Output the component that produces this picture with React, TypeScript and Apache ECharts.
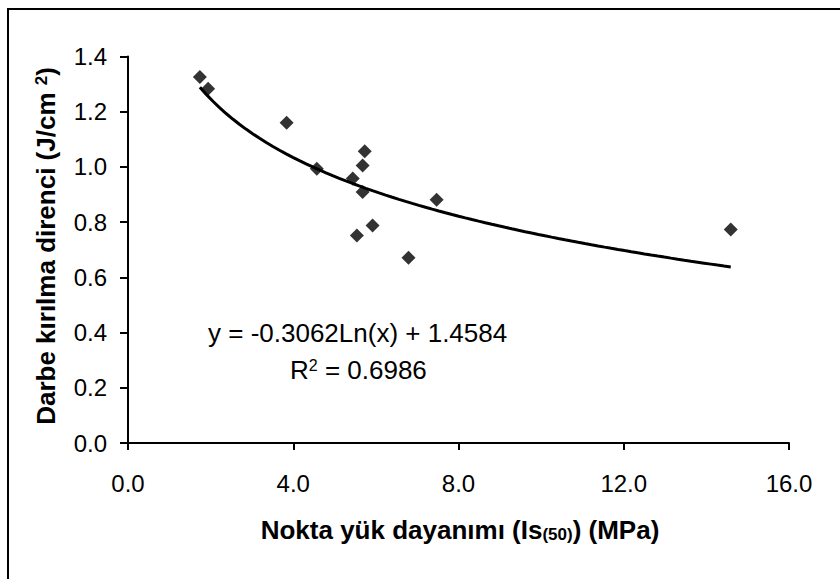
import React, { useEffect, useRef } from "react";
import * as echarts from "echarts";

const pointX = [1.74, 1.94, 3.84, 4.57, 5.44, 5.73, 5.68, 5.68, 5.92, 5.54, 6.79, 7.47, 14.59];
const pointY = [1.326, 1.283, 1.16, 0.993, 0.958, 1.057, 1.005, 0.909, 0.788, 0.752, 0.671, 0.881, 0.773];
const xTicks = [0, 4, 8, 12, 16];
const yTicks = [0, 0.2, 0.4, 0.6, 0.8, 1.0, 1.2, 1.4];
// logarithmic trendline coefficients as printed on the chart
const trendSlope = -0.3062;
const trendIntercept = 1.4584;
const trendR2 = "0.6986";

const FONT = "'Liberation Sans', Arial, sans-serif";

export default function App() {
  const ref = useRef<HTMLDivElement>(null);
  useEffect(() => {
    if (!ref.current) return;
    const chart = echarts.init(ref.current, undefined, { renderer: "svg" });
    const xmin = Math.min(...pointX);
    const xmax = Math.max(...pointX);
    const steps = 80;
    const trend: number[][] = [];
    for (let i = 0; i <= steps; i++) {
      const x = xmin + ((xmax - xmin) * i) / steps;
      trend.push([x, trendSlope * Math.log(x) + trendIntercept]);
    }
    const scatter = pointX.map((x, i) => [x, pointY[i]]);
    chart.setOption({
      animation: false,
      backgroundColor: "#fff",
      textStyle: { fontFamily: FONT },
      grid: { left: 128, top: 56.5, right: 51, bottom: 136, containLabel: false },
      xAxis: {
        type: "value",
        min: xTicks[0],
        max: xTicks[xTicks.length - 1],
        interval: 4,
        axisLine: { show: true, lineStyle: { color: "#000", width: 2 } },
        axisTick: { show: true, length: 7, lineStyle: { color: "#000", width: 2 } },
        splitLine: { show: false },
        axisLabel: {
          color: "#000",
          fontSize: 24,
          fontFamily: FONT,
          margin: 28,
          formatter: (v: number) => v.toFixed(1),
        },
      },
      yAxis: {
        type: "value",
        min: yTicks[0],
        max: yTicks[yTicks.length - 1],
        interval: 0.2,
        axisLine: { show: true, lineStyle: { color: "#000", width: 2 } },
        axisTick: { show: true, length: 8, lineStyle: { color: "#000", width: 2 } },
        splitLine: { show: false },
        axisLabel: {
          color: "#000",
          fontSize: 24,
          fontFamily: FONT,
          margin: 21,
          formatter: (v: number) => v.toFixed(1),
        },
      },
      series: [
        {
          type: "line",
          data: trend,
          showSymbol: false,
          symbol: "none",
          smooth: false,
          lineStyle: { color: "#000", width: 3 },
          z: 2,
        },
        {
          type: "scatter",
          data: scatter,
          symbol: "diamond",
          symbolSize: 14,
          itemStyle: { color: "#000" },
          z: 3,
        },
      ],
      graphic: [
        {
          type: "rect",
          shape: { x: 8, y: 9, width: 840, height: 600 },
          style: { fill: "none", stroke: "#000", lineWidth: 2 },
          silent: true,
        },
        {
          type: "text",
          x: 208,
          y: 333,
          style: {
            text: `y = ${trendSlope.toFixed(4)}Ln(x) + ${trendIntercept.toFixed(4)}`,
            fontSize: 26,
            fontFamily: FONT,
            fill: "#000",
            align: "left",
            verticalAlign: "middle",
          },
        },
        {
          type: "text",
          x: 290,
          y: 370,
          style: {
            text: `R{sup|2} = ${trendR2}`,
            fontSize: 26,
            fontFamily: FONT,
            fill: "#000",
            align: "left",
            verticalAlign: "middle",
            rich: {
              sup: { fontSize: 16, fontFamily: FONT, verticalAlign: "top", fill: "#000" },
            },
          },
        },
        {
          type: "text",
          x: 460,
          y: 530,
          style: {
            text: "Nokta yük dayanımı (Is{sub|(50)}) (MPa)",
            fontSize: 26,
            fontWeight: "bold",
            fontFamily: FONT,
            fill: "#000",
            align: "center",
            verticalAlign: "middle",
            rich: {
              sub: { fontSize: 17, fontWeight: "bold", fontFamily: FONT, verticalAlign: "bottom", fill: "#000" },
            },
          },
        },
        {
          type: "text",
          x: 46,
          y: 246,
          rotation: Math.PI / 2,
          style: {
            text: "Darbe kırılma direnci (J/cm {sup|2})",
            fontSize: 26,
            fontWeight: "bold",
            fontFamily: FONT,
            fill: "#000",
            align: "center",
            verticalAlign: "middle",
            rich: {
              sup: { fontSize: 17, fontWeight: "bold", fontFamily: FONT, verticalAlign: "top", fill: "#000" },
            },
          },
        },
      ],
    });
    return () => chart.dispose();
  }, []);
  return (
    <div
      ref={ref}
      style={{ position: "fixed", left: 0, top: 0, width: 840, height: 579 }}
    />
  );
}
